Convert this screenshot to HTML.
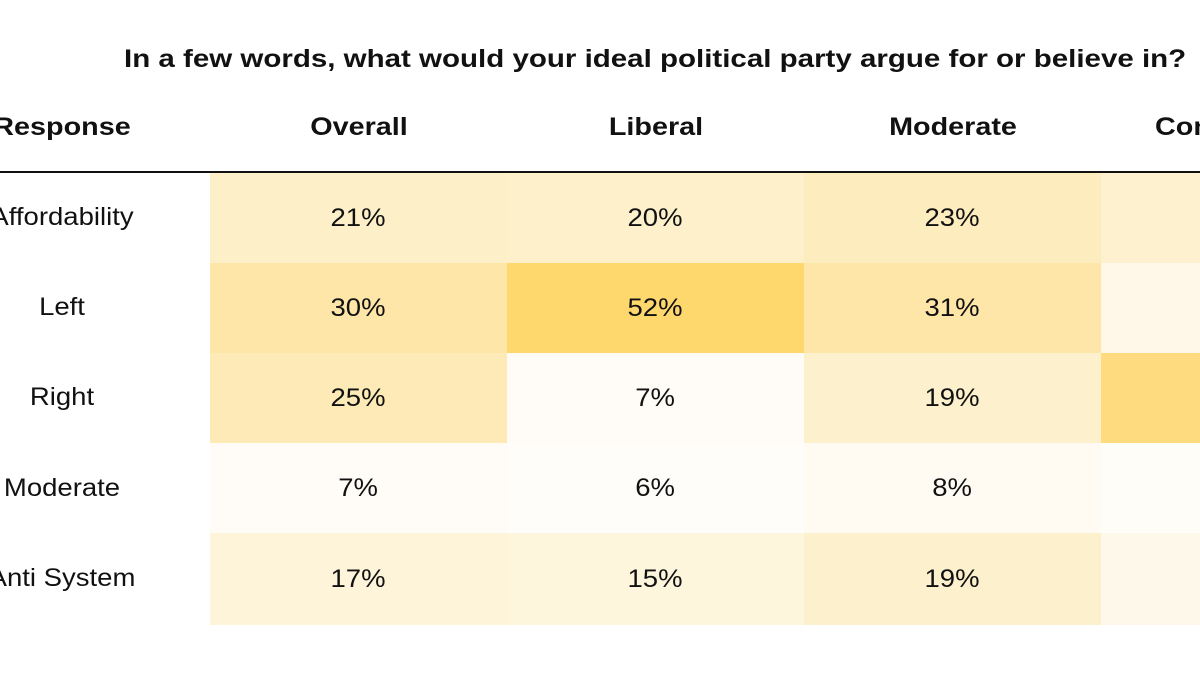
<!DOCTYPE html>
<html><head><style>
body{margin:0;width:1200px;height:675px;background:#fff;overflow:hidden;position:relative;font-family:"Liberation Sans",sans-serif;color:#111}
.t{position:absolute;left:124px;top:45px;font-size:25px;font-weight:bold;white-space:nowrap;transform-origin:0 0;transform:scaleX(1.18)}
.h{position:absolute;top:113px;font-size:25px;font-weight:bold;white-space:nowrap;transform:translateX(-50%) scaleX(1.15)}
.line{position:absolute;left:0;top:171px;width:1200px;height:2px;background:#111}
.c{position:absolute;width:297px;height:90px;display:flex;align-items:center;justify-content:center;font-size:25px}
.c span{display:inline-block;transform:scaleX(1.1)}
.l{position:absolute;font-size:25px;white-space:nowrap;transform:translateX(-50%) scaleX(1.1)}
</style></head><body>
<div class="t">In a few words, what would your ideal political party argue for or believe in?</div>
<div class="h" style="left:62px">Response</div>
<div class="h" style="left:359px">Overall</div>
<div class="h" style="left:656px">Liberal</div>
<div class="h" style="left:953px">Moderate</div>
<div class="h" style="left:1155px;transform:scaleX(1.15);transform-origin:0 0">Con</div>
<div class="line"></div>

<div class="l" style="left:62px;top:203px">Affordability</div>
<div class="l" style="left:62px;top:293px">Left</div>
<div class="l" style="left:62px;top:383px">Right</div>
<div class="l" style="left:62px;top:474px">Moderate</div>
<div class="l" style="left:62px;top:564px">Anti System</div>

<div class="c" style="left:210px;top:173px;background:#fdf0c9"><span>21%</span></div>
<div class="c" style="left:507px;top:173px;background:#fdf0ca"><span>20%</span></div>
<div class="c" style="left:804px;top:173px;background:#fdecbd"><span>23%</span></div>
<div class="c" style="left:1101px;top:173px;background:#fef1cf"></div>

<div class="c" style="left:210px;top:263px;background:#fde6a8"><span>30%</span></div>
<div class="c" style="left:507px;top:263px;background:#fed76d"><span>52%</span></div>
<div class="c" style="left:804px;top:263px;background:#fde6a8"><span>31%</span></div>
<div class="c" style="left:1101px;top:263px;background:#fff8e8"></div>

<div class="c" style="left:210px;top:353px;background:#fdeab6"><span>25%</span></div>
<div class="c" style="left:507px;top:353px;background:#fffcf7"><span>7%</span></div>
<div class="c" style="left:804px;top:353px;background:#fdf1cd"><span>19%</span></div>
<div class="c" style="left:1101px;top:353px;background:#fedb7e"></div>

<div class="c" style="left:210px;top:443px;background:#fffcf7"><span>7%</span></div>
<div class="c" style="left:507px;top:443px;background:#fffdfa"><span>6%</span></div>
<div class="c" style="left:804px;top:443px;background:#fffbf2"><span>8%</span></div>
<div class="c" style="left:1101px;top:443px;background:#fffdf8"></div>

<div class="c" style="left:210px;top:533px;height:92px;background:#fef4d9"><span>17%</span></div>
<div class="c" style="left:507px;top:533px;height:92px;background:#fef5dd"><span>15%</span></div>
<div class="c" style="left:804px;top:533px;height:92px;background:#fdf1cd"><span>19%</span></div>
<div class="c" style="left:1101px;top:533px;height:92px;background:#fef8ea"></div>
</body></html>
